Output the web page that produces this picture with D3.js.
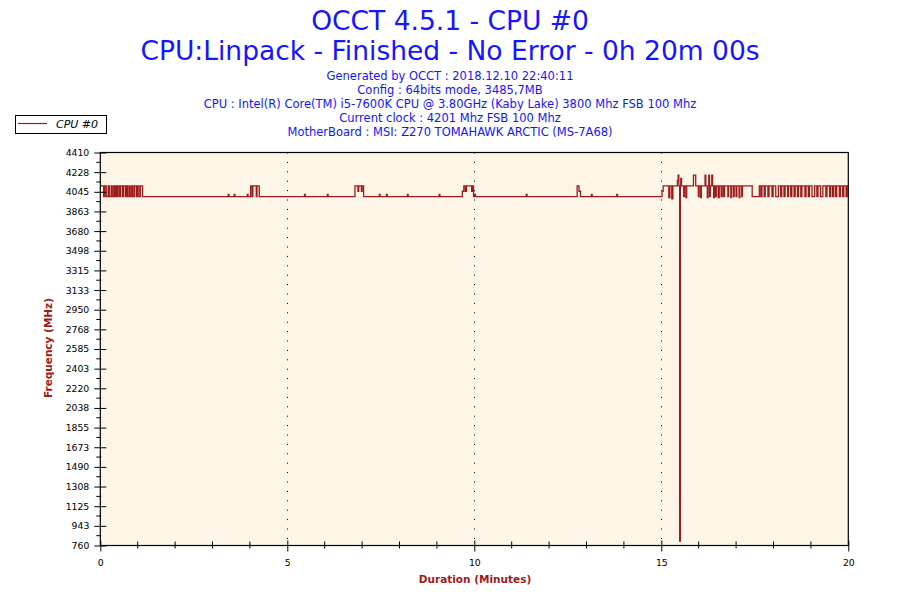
<!DOCTYPE html>
<html><head><meta charset="utf-8">
<script src="https://cdn.jsdelivr.net/npm/d3@7"></script>
<style>body{margin:0;background:#fff}svg{display:block}text{font-family:"DejaVu Sans",Verdana,sans-serif}</style>
</head><body><svg id="c" width="900" height="600"></svg>
<script>
const titleLines = ["OCCT 4.5.1 - CPU #0", "CPU:Linpack - Finished - No Error - 0h 20m 00s"];
const infoLines = ["Generated by OCCT : 2018.12.10 22:40:11", "Config : 64bits mode, 3485,7MB",
  "CPU : Intel(R) Core(TM) i5-7600K CPU @ 3.80GHz (Kaby Lake) 3800 Mhz FSB 100 Mhz",
  "Current clock : 4201 Mhz FSB 100 Mhz", "MotherBoard : MSI: Z270 TOMAHAWK ARCTIC (MS-7A68)"];
const seriesName = "CPU #0";
const xTickValues = [0, 5, 10, 15, 20];
const xTickLabels = ["0", "5", "10", "15", "20"];
const xMinorTicks = [1,2,3,4,6,7,8,9,11,12,13,14,16,17,18,19];
const yTickValues = [760, 942.5, 1125, 1307.5, 1490, 1672.5, 1855, 2037.5, 2220, 2402.5, 2585, 2767.5, 2950, 3132.5, 3315, 3497.5, 3680, 3862.5, 4045, 4227.5, 4410];
const yTickLabels = ["760","943","1125","1308","1490","1673","1855","2038","2220","2403","2585","2768","2950","3133","3315","3498","3680","3863","4045","4228","4410"];
const gridMinutes = [5, 10, 15];
// change points: time (minutes) and frequency (MHz)
const times = [0,0.09,0.12,0.16,0.21,0.24,0.29,0.32,0.36,0.39,0.41,0.44,0.47,0.51,0.54,0.59,0.62,0.67,0.70,0.73,0.77,0.80,0.84,0.87,0.91,0.96,0.99,1.03,1.07,1.13,
 3.42,3.44,3.58,3.60,3.93,3.95,
 4.02,4.06,4.08,4.17,4.19,4.25,
 5.46,5.48,6.07,6.09,
 6.81,6.89,6.91,6.98,7.00,7.04,
 7.46,7.48,7.65,7.67,8.21,8.23,9.06,9.08,
 9.68,9.72,9.76,9.79,9.93,9.95,9.98,10.01,10.03,
 11.39,11.41,
 12.75,12.80,12.84,
 13.13,13.15,13.81,13.83,
 15.02,15.05,15.20,15.23,15.28,15.31,15.43,15.45,15.47,15.49,15.51,15.52,15.54,15.60,15.62,15.66,15.68,15.86,15.92,15.99,16.01,16.05,16.07,16.17,16.19,16.23,16.25,16.27,16.29,16.31,16.35,16.37,16.40,16.42,16.45,16.47,16.52,16.55,16.60,16.62,16.66,16.69,16.78,16.80,16.86,16.88,16.93,16.95,17.00,17.02,17.08,17.10,17.15,17.17,17.43,17.62,17.66,17.69,17.75,17.78,17.85,17.88,17.96,17.99,18.06,18.13,18.19,18.22,18.28,18.31,18.38,18.40,18.46,18.49,18.55,18.58,18.64,18.67,18.73,18.76,18.84,18.87,18.93,18.96,19.03,19.10,19.16,19.19,19.26,19.32,19.40,19.43,19.50,19.53,19.58,19.61,19.66,19.69,19.76,19.79,19.85,19.88,19.94,19.97,20.0];
const freqs = [4100,4000,4100,4000,4100,4000,4100,4000,4100,4000,4100,4000,4100,4000,4100,4000,4100,4000,4100,4000,4100,4000,4100,4000,4100,4000,4100,4000,4100,4000,
 4020,4000,4020,4000,4020,4000,
 4100,4000,4100,4000,4100,4000,
 4020,4000,4020,4000,
 4100,4050,4100,4050,4100,4000,
 4020,4000,4020,4000,4020,4000,4020,4000,
 4050,4100,4050,4100,4050,4100,4000,4020,4000,
 4020,4000,
 4100,4050,4000,
 4020,4000,4020,4000,
 4050,4100,3990,4100,3980,4100,4150,4200,4100,800,4100,4170,4100,4000,4100,3990,4100,4200,4100,4000,4100,3990,4100,4200,4100,3990,4100,4200,4000,4100,4200,4100,3990,4100,4000,4100,3990,4100,4000,4100,4000,4100,4000,4100,3990,4100,4000,4100,4000,4100,3990,4100,4000,4100,4000,4100,4000,4100,4000,4100,4000,4100,4000,4100,4000,4100,4000,4100,4000,4100,4000,4100,4000,4100,4000,4100,4000,4100,4000,4100,4000,4100,4000,4100,4000,4100,4000,4100,4000,4100,4000,4100,4000,4100,4000,4100,4000,4100,4000,4100,4000,4100,4000,4100,4100];
const data = times.map((t, i) => ({t, v: freqs[i]}));

const svg = d3.select("#c");
const L = 100.3, R = 848.3, T = 152.5, B = 545.5;
const x = d3.scaleLinear().domain([0, 20]).range([L, R]);
const y = d3.scaleLinear().domain([760, 4410]).range([B, T]);
const blue = "#1515ff", red = "#9e1b1b";

svg.selectAll("text.title").data(titleLines).join("text").attr("class","title")
  .attr("x", 450).attr("y", (d,i) => 29.5 + i*30).attr("text-anchor","middle")
  .attr("font-size", 26.5).attr("fill", blue).text(d => d);
svg.selectAll("text.info").data(infoLines).join("text").attr("class","info")
  .attr("x", 450).attr("y", (d,i) => 80.3 + i*13.8).attr("text-anchor","middle")
  .attr("font-size", 11.5).attr("fill", blue).text(d => d);

// legend
const lg = svg.append("g");
lg.append("rect").attr("x",15.5).attr("y",115.5).attr("width",91).attr("height",18).attr("fill","#fff").attr("stroke","#000");
lg.append("line").attr("x1",18).attr("x2",47).attr("y1",123.5).attr("y2",123.5).attr("stroke",red).attr("stroke-width",1.2);
lg.append("text").attr("x",56).attr("y",128).attr("font-size",11).attr("font-style","italic").attr("fill","#000").text(seriesName);

// plot background
svg.append("rect").attr("x",L).attr("y",T).attr("width",R-L).attr("height",B-T).attr("fill","#fdf6e8");

// grid
svg.append("g").selectAll("line").data(gridMinutes).join("line")
  .attr("x1", d => Math.round(x(d))+0.5).attr("x2", d => Math.round(x(d))+0.5)
  .attr("y1", T).attr("y2", B).attr("stroke","#000").attr("stroke-width",1).attr("stroke-dasharray","1,8.4");

// series
svg.append("clipPath").attr("id", "clp").append("rect").attr("x",L).attr("y",T).attr("width",R-L).attr("height",B-T);
svg.append("path").datum(data).attr("clip-path","url(#clp)")
  .attr("d", d3.line().x(d => x(d.t)).y(d => y(d.v)).curve(d3.curveStepAfter))
  .attr("fill","none").attr("stroke",red).attr("stroke-width",1.3);

// frame
svg.append("rect").attr("x",L).attr("y",T).attr("width",R-L).attr("height",B-T).attr("fill","none").attr("stroke","#000").attr("stroke-width",1.2);

// axes
const yAx = svg.append("g").attr("transform",`translate(${L},0)`)
  .call(d3.axisLeft(y).tickValues(yTickValues).tickFormat((d,i) => yTickLabels[i]).tickSize(6).tickPadding(5));
yAx.select(".domain").remove();
yAx.selectAll(".tick line").attr("x2",-6).attr("x1",6).attr("stroke","#000");
yAx.selectAll("text").attr("font-size",9.3).attr("fill","#000").attr("font-family","DejaVu Sans");
const yMinor = yTickValues.slice(1).map((v,i) => (v + yTickValues[i]) / 2);
svg.append("g").selectAll("line").data(yMinor).join("line")
  .attr("x1", L-4).attr("x2", L+1).attr("y1", d => y(d)).attr("y2", d => y(d)).attr("stroke","#000");

const xAx = svg.append("g").attr("transform",`translate(0,${B})`)
  .call(d3.axisBottom(x).tickValues(xTickValues).tickFormat((d,i) => xTickLabels[i]).tickSize(6).tickPadding(8));
xAx.select(".domain").remove();
xAx.selectAll(".tick line").attr("y1",-5).attr("y2",6).attr("stroke","#000");
xAx.selectAll("text").attr("font-size",9.3).attr("fill","#000").attr("font-family","DejaVu Sans");
svg.append("g").selectAll("line").data(xMinorTicks).join("line")
  .attr("x1", d => x(d)).attr("x2", d => x(d)).attr("y1", B-4).attr("y2", B+3).attr("stroke","#000");

// axis titles
svg.append("text").attr("x", 475).attr("y", 583).attr("text-anchor","middle")
  .attr("font-size",10.5).attr("font-weight","bold").attr("fill",red).text("Duration (Minutes)");
svg.append("text").attr("transform","translate(52,348) rotate(-90)").attr("text-anchor","middle")
  .attr("font-size",10.5).attr("font-weight","bold").attr("fill",red).text("Frequency (MHz)");
</script></body></html>
